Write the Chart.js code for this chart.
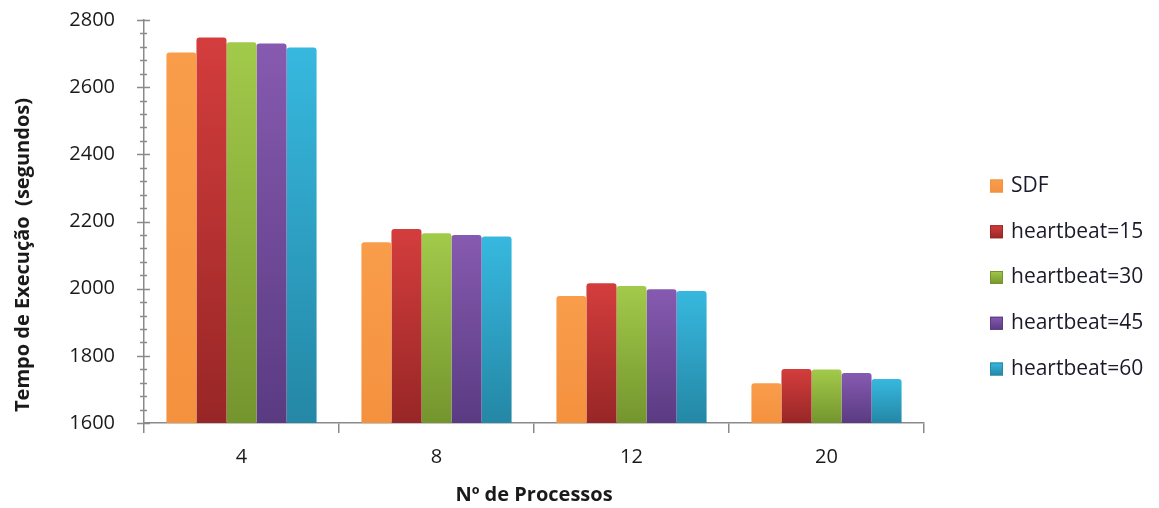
<!DOCTYPE html>
<html>
<head>
<meta charset="utf-8">
<script src="https://cdn.jsdelivr.net/npm/chart.js@4/dist/chart.umd.min.js"></script>
<style>
  html, body { margin: 0; padding: 0; background: #ffffff; }
  #wrap { width: 1159px; height: 508px; position: relative; }
</style>
</head>
<body>
<div id="wrap"><canvas id="chart"></canvas></div>
<script>
// Execution time (seconds) per number of processes
const categories = ['4', '8', '12', '20'];
const seriesNames = ['SDF', 'heartbeat=15', 'heartbeat=30', 'heartbeat=45', 'heartbeat=60'];
const sdf  = [2703, 2138, 1978, 1718];
const hb15 = [2748, 2178, 2016, 1761];
const hb30 = [2734, 2165, 2008, 1759];
const hb45 = [2730, 2160, 1998, 1749];
const hb60 = [2718, 2155, 1993, 1731];
const yMin = 1600;
const yMax = 2800;
const yMajorStep = 200;
const yMinorStep = 40;
const xTitle = 'Nº de Processos';
const yTitle = 'Tempo de Execução  (segundos)';

const seriesValues = [sdf, hb15, hb30, hb45, hb60];
// light (top) and dark (bottom) shade of each series
const shades = [
  ['#f99d4b', '#f4913f'],
  ['#d43d3d', '#982626'],
  ['#a2ca4a', '#74952e'],
  ['#865ab0', '#5a3b82'],
  ['#37b8df', '#2487a5']
];

const FONT = '"Open Sans", Lato, sans-serif';

function barFill(i) {
  return function (context) {
    const chart = context.chart;
    const y = chart.scales.y;
    if (!y || context.raw == null) return shades[i][0];
    const top = y.getPixelForValue(context.raw);
    const bottom = y.getPixelForValue(yMin);
    if (!isFinite(top) || !isFinite(bottom) || bottom <= top) return shades[i][0];
    const g = chart.ctx.createLinearGradient(0, top, 0, bottom);
    g.addColorStop(0, shades[i][0]);
    g.addColorStop(1, shades[i][1]);
    return g;
  };
}

const datasets = seriesNames.map((name, i) => ({
  label: name,
  data: seriesValues[i],
  backgroundColor: barFill(i),
  borderWidth: 0,
  borderRadius: { topLeft: 3, topRight: 3, bottomLeft: 0, bottomRight: 0 },
  borderSkipped: 'bottom',
  categoryPercentage: 0.77,
  barPercentage: 1.0
}));

// axis tick marks, axis titles and the side legend
const decorations = {
  id: 'decorations',
  afterDraw(chart) {
    const ctx = chart.ctx;
    const y = chart.scales.y;
    const area = chart.chartArea;
    ctx.save();

    // y tick marks crossing the axis line
    ctx.strokeStyle = '#8a8a8a';
    ctx.lineWidth = 1.5;
    for (let v = yMin; v <= yMax + 0.001; v += yMinorStep) {
      const py = Math.round(y.getPixelForValue(v)) + 0.5;
      const major = Math.abs((v - yMin) % yMajorStep) < 0.001;
      ctx.beginPath();
      ctx.moveTo(area.left - (major ? 7 : 4), py);
      ctx.lineTo(area.left + (major ? 6 : 3), py);
      ctx.stroke();
    }

    // axis titles
    ctx.fillStyle = '#1a1a1a';
    ctx.font = 'bold 20px ' + FONT;
    ctx.textAlign = 'center';
    ctx.textBaseline = 'middle';
    ctx.fillText(xTitle, (area.left + area.right) / 2, 495);
    ctx.save();
    ctx.translate(23, 255);
    ctx.rotate(-Math.PI / 2);
    ctx.fillText(yTitle, 0, 0);
    ctx.restore();

    // legend
    ctx.font = '21px ' + FONT;
    ctx.textAlign = 'left';
    ctx.textBaseline = 'middle';
    const boxX = 990, boxSize = 13, firstY = 186, gap = 45.75;
    chart.data.datasets.forEach((ds, i) => {
      const cy = firstY + i * gap;
      const g = ctx.createLinearGradient(0, cy - boxSize / 2, 0, cy + boxSize / 2);
      g.addColorStop(0, shades[i][0]);
      g.addColorStop(1, shades[i][1]);
      ctx.fillStyle = g;
      ctx.fillRect(boxX, cy - boxSize / 2, boxSize, boxSize);
      ctx.strokeStyle = shades[i][1];
      ctx.lineWidth = 1;
      ctx.strokeRect(boxX + 0.5, cy - boxSize / 2 + 0.5, boxSize - 1, boxSize - 1);
      ctx.fillStyle = '#1a1a2a';
      ctx.fillText(ds.label, boxX + 21, cy);
    });
    ctx.restore();
  }
};

new Chart(document.getElementById('chart'), {
  type: 'bar',
  data: { labels: categories, datasets: datasets },
  options: {
    responsive: true,
    maintainAspectRatio: false,
    animation: false,
    layout: { padding: { left: 69, right: 235, top: 20, bottom: 27 } },
    plugins: {
      legend: { display: false },
      tooltip: { enabled: false },
      title: { display: false }
    },
    scales: {
      x: {
        grid: {
          offset: true,
          drawOnChartArea: false,
          drawTicks: true,
          tickLength: 10,
          color: '#8a8a8a',
          lineWidth: 1.5
        },
        border: { display: true, color: '#8a8a8a', width: 1.5 },
        ticks: { color: '#1a1a1a', font: { family: FONT, size: 20 }, padding: 12 }
      },
      y: {
        min: yMin,
        max: yMax,
        afterFit: (scale) => { scale.width = 75; },
        grid: {
          drawOnChartArea: false,
          drawTicks: true,
          tickLength: 25,
          tickColor: 'rgba(0,0,0,0)'
        },
        border: { display: true, color: '#8a8a8a', width: 1.5 },
        ticks: {
          stepSize: yMajorStep,
          color: '#1a1a1a',
          font: { family: FONT, size: 20 },
          padding: 4,
          callback: (value) => String(value)
        }
      }
    }
  },
  plugins: [decorations]
});
</script>
</body>
</html>
